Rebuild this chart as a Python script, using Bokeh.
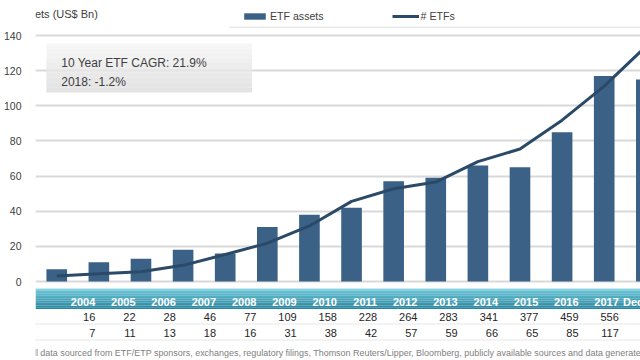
from bokeh.plotting import figure
from bokeh.models import (Range1d, FixedTicker, Legend, LegendItem, Label,
                          ColumnDataSource, Span)
from bokeh.layouts import column
from bokeh.embed import file_html
from bokeh.resources import INLINE
from bokeh.core.properties import value

# ---------------- data ----------------
years = ["2004", "2005", "2006", "2007", "2008", "2009", "2010", "2011",
         "2012", "2013", "2014", "2015", "2016", "2017", "Dec-18"]
etf_count = [16, 22, 28, 46, 77, 109, 158, 228, 264, 283, 341, 377, 459, 556, 670]
etf_assets = [7, 11, 13, 18, 16, 31, 38, 42, 57, 59, 66, 65, 85, 117, 115]
asset_ticks = [0, 20, 40, 60, 80, 100, 120, 140]
count_scale = 5          # right axis (# ETFs) 0-700 against left 0-140
axis_title = "Assets (US$ Bn)"
legend_labels = ["ETF assets", "# ETFs"]
note_lines = ["10 Year ETF CAGR: 21.9%", "2018: -1.2%"]
source_note = ("All data sourced from ETF/ETP sponsors, exchanges, regulatory filings, "
               "Thomson Reuters/Lipper, Bloomberg, publicly available sources and data generated in-house.")

# ---------------- style / layout ----------------
FONT = "Liberation Sans"
BAR = "#3b6286"
LINE = "#2a4a68"
GRID = "#d9d9d9"
TXT = "#404040"

W, H = 640, 360
HA, HB = 28, 260            # header strip, chart; table gets the rest
HC = H - HA - HB
n = len(years)
idx = list(range(n))

c0, step = 49.5, 42.6       # pixel centre of first category and spacing
FL = 28                     # chart frame left edge
x_end = (W - c0) / step


def xi(px):
    return (px - c0) / step


zero_px = 281.0
ppu = (zero_px - 35.0) / 140


def v_at(py):
    return (zero_px - py) / ppu


y_hi = v_at(HA)
y_lo = v_at(HA + HB)

src = ColumnDataSource(dict(x=idx, assets=etf_assets, count=etf_count, year=years))

# ---------------- header strip: axis title + legend ----------------
pa = figure(width=W, height=HA, x_range=Range1d(0, W), y_range=Range1d(HA, 0),
            output_backend="svg", toolbar_location=None, x_axis_location=None,
            y_axis_location=None, min_border=0, outline_line_color=None)
pa.grid.visible = False
pa.add_layout(Label(x=-20, y=13, text=axis_title, text_baseline="middle",
                    text_font=FONT, text_font_size="11px", text_color=TXT))
pa.line(x=[205, W], y=[27, 27], line_color="#e3e3e3", line_width=1.5)
# hidden proxies of the chart's series, used only for the legend swatches
leg_bar = pa.vbar(x="x", top="assets", width=0.5, source=src, fill_color=BAR,
                  line_color=None, visible=False)
leg_line = pa.line(x="x", y="count", source=src, line_color=LINE, line_width=3,
                   visible=False)
legend = Legend(items=[LegendItem(label=legend_labels[0], renderers=[leg_bar]),
                       LegendItem(label=legend_labels[1], renderers=[leg_line])],
                orientation="horizontal", location=(206, 6),
                glyph_width=27, glyph_height=8, label_standoff=2, spacing=68,
                padding=0, margin=0, border_line_color=None,
                background_fill_alpha=0, inactive_fill_alpha=0,
                label_text_font=FONT,
                label_text_font_size="10.6px", label_text_color=TXT)
pa.add_layout(legend)

# ---------------- chart ----------------
p = figure(width=W, height=HB, x_range=Range1d(xi(FL), x_end),
           y_range=Range1d(y_lo, y_hi), output_backend="svg",
           toolbar_location=None, x_axis_location=None, y_axis_location="left",
           min_border_left=FL, min_border_right=0, min_border_top=0,
           min_border_bottom=0, outline_line_color=None)
p.extra_y_ranges = {"etf": Range1d(y_lo * count_scale, y_hi * count_scale)}

ticker = FixedTicker(ticks=asset_ticks)
p.yaxis.ticker = ticker
p.yaxis.axis_line_color = None
p.yaxis.major_tick_line_color = None
p.yaxis.minor_tick_line_color = None
p.yaxis.major_label_standoff = 8
p.yaxis.major_label_text_font = FONT
p.yaxis.major_label_text_font_size = "10.5px"
p.yaxis.major_label_text_color = TXT
p.xgrid.visible = False
p.ygrid.ticker = ticker
p.ygrid.grid_line_color = GRID
p.ygrid.grid_line_width = 2

bars = p.vbar(x="x", top="assets", width=0.49, source=src,
              fill_color=BAR, line_color=None)
ln = p.line(x="x", y="count", source=src, y_range_name="etf",
            line_color=LINE, line_width=3, line_join="round")

# annotation box (grey gradient)
nb = 10
b_top, b_bot = 43, 92
tops, bots, cols = [], [], []
for k in range(nb):
    tops.append(v_at(b_top + (b_bot - b_top) * k / nb))
    bots.append(v_at(b_top + (b_bot - b_top) * (k + 1) / nb))
    g = int(round(0xf4 + (0xdc - 0xf4) * k / (nb - 1)))
    cols.append("#%02x%02x%02x" % (g, g, g))
p.quad(left=[xi(39)] * nb, right=[xi(247)] * nb, top=tops, bottom=bots,
       fill_color=cols, fill_alpha=0.8, line_color=None)
for txt, py in zip(note_lines, [62, 81]):
    p.add_layout(Label(x=xi(54), y=v_at(py), text=txt, text_baseline="middle",
                       text_font=FONT, text_font_size="12px", text_color=TXT))

# ---------------- table below ----------------
y0c = HA + HB
p2 = figure(width=W, height=HC, x_range=Range1d(xi(0), x_end),
            y_range=Range1d(H, y0c), output_backend="svg",
            toolbar_location=None, x_axis_location=None, y_axis_location=None,
            min_border=0, outline_line_color=None)
p2.grid.visible = False

band_top, band_bot = y0c, 308.5
ns = 12
bt, bb, bc = [], [], []
c_top = (0x6c, 0xc6, 0xd8)
c_bot = (0x2a, 0x86, 0x9f)
for k in range(ns):
    bt.append(band_top + (band_bot - band_top) * k / ns)
    bb.append(band_top + (band_bot - band_top) * (k + 1) / ns)
    f = k / (ns - 1)
    bc.append("#%02x%02x%02x" % tuple(int(round(a + (b - a) * f)) for a, b in zip(c_top, c_bot)))
p2.quad(left=[xi(0)] * ns, right=[x_end] * ns, top=bt, bottom=bb,
        fill_color=bc, line_color=None)
p2.add_layout(Span(location=band_top + 0.5, dimension="width", line_color="#a6dfea", line_width=1))

src2 = ColumnDataSource(dict(x=idx, year=years,
                             count=[str(v) for v in etf_count],
                             assets=[str(v) for v in etf_assets]))
off = 13
p2.text(x="x", y=301.5, text="year", source=src2, x_offset=off, text_align="right",
        text_baseline="middle", text_font=value(FONT), text_font_style="bold",
        text_font_size="11px", text_color="white")
p2.text(x="x", y=316, text="count", source=src2, x_offset=off, text_align="right",
        text_baseline="middle", text_font=value(FONT), text_font_size="11px",
        text_color="#262626")
p2.text(x="x", y=332, text="assets", source=src2, x_offset=off, text_align="right",
        text_baseline="middle", text_font=value(FONT), text_font_size="11px",
        text_color="#262626")
for loc in (323.5, 339.5):
    p2.add_layout(Span(location=loc, dimension="width", line_color="#cfcfcf",
                       line_width=1, line_dash="1 1"))

p2.add_layout(Label(x=xi(-8), y=352, text=source_note,
                    text_baseline="middle", text_font=FONT, text_font_size="8.95px",
                    text_color="#808080"))

layout = column(pa, p, p2, spacing=0)
open("out.html", "w").write(file_html(layout, INLINE))
